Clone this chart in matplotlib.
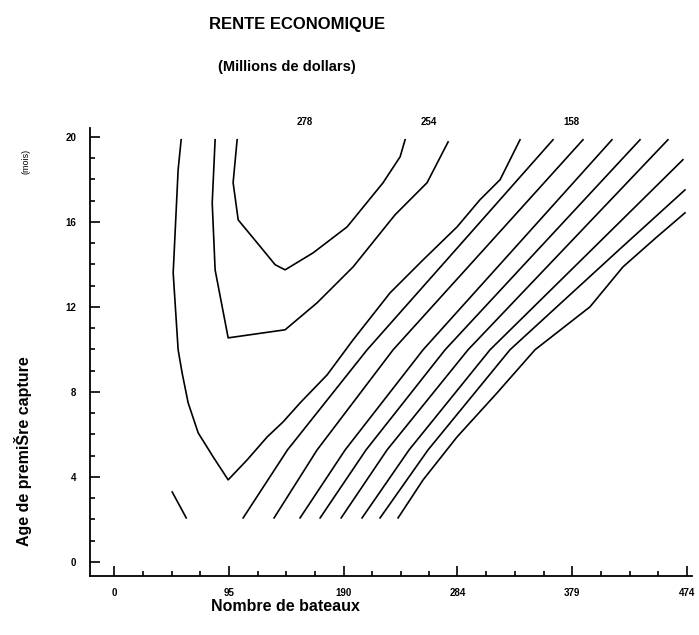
import matplotlib.pyplot as plt

plt.rcParams['font.family'] = ['Liberation Sans', 'DejaVu Sans']

# Contour lines (Nombre de bateaux, Age de premiere capture)
c278_x = [101.7, 98.4, 102.6, 118.3, 133.2, 141.4, 164.6, 192.7, 222.5, 236.6, 240.7]
c278_y = [19.86, 17.84, 16.09, 15.01, 13.98, 13.74, 14.54, 15.76, 17.84, 19.06, 19.86]

c254_x = [83.5, 81.1, 83.5, 94.3, 141.4, 167.9, 197.7, 232.4, 258.9, 276.3]
c254_y = [19.86, 16.89, 13.74, 10.54, 10.92, 12.19, 13.88, 16.33, 17.84, 19.76]

ca_x = [55.4, 52.9, 49.6, 48.8, 52.9, 56.2, 61.2, 69.5, 81.9, 94.3, 110.0, 126.6, 139.8,
        153.8, 176.2, 197.7, 228.3, 255.6, 283.7, 302.7, 319.3, 335.8]
ca_y = [19.86, 18.45, 14.54, 13.6, 9.98, 8.89, 7.48, 6.07, 4.94, 3.86, 4.8, 5.88, 6.59,
        7.48, 8.8, 10.45, 12.66, 14.21, 15.76, 17.04, 17.98, 19.86]

seg_x = [48.0, 59.6]
seg_y = [3.29, 2.07]

# diagonal contours: bottom, y~5.3, y~10, y~14.7, end
diag_x = [
    [106.7, 143.4, 209.3, 282.5, 363.1],
    [132.3, 167.9, 230.8, 305.6, 387.9],
    [153.8, 191.1, 255.6, 330.0, 411.9],
    [170.4, 208.4, 273.8, 350.5, 435.1],
    [187.8, 225.8, 292.8, 371.5, 458.2],
    [205.1, 244.0, 311.0, 395.0, 470.6],
    [220.0, 259.7, 327.5, 417.7, 472.3],
]
diag_y = [
    [2.07, 5.27, 9.98, 14.68, 19.86],
    [2.07, 5.27, 9.98, 14.68, 19.86],
    [2.07, 5.27, 9.98, 14.68, 19.86],
    [2.07, 5.27, 9.98, 14.68, 19.86],
    [2.07, 5.27, 9.98, 14.68, 19.86],
    [2.07, 5.27, 9.98, 14.68, 18.92],
    [2.07, 5.27, 9.98, 14.68, 17.5],
]
last_x = [234.9, 255.6, 283.7, 316.8, 348.2, 393.7, 421.0, 449.1, 472.3]
last_y = [2.07, 3.86, 5.88, 7.95, 9.98, 12.0, 13.88, 15.29, 16.42]

level_labels = ['278', '254', '158']
level_label_x = [158, 260, 378]
level_label_y = [20.45, 20.45, 20.45]

x_ticks = [0, 95, 190, 284, 379, 474]
y_ticks = [0, 4, 8, 12, 16, 20]

fig = plt.figure(figsize=(6.99, 6.35), dpi=100)
ax = fig.add_axes([0.1288, 0.093, 0.861, 0.705])

lw = 1.2
ax.plot(c278_x, c278_y, color='black', lw=lw)
ax.plot(c254_x, c254_y, color='black', lw=lw)
ax.plot(ca_x, ca_y, color='black', lw=lw)
ax.plot(seg_x, seg_y, color='black', lw=lw)
for xs, ys in zip(diag_x, diag_y):
    ax.plot(xs, ys, color='black', lw=lw)
ax.plot(last_x, last_y, color='black', lw=lw)

for t, x, y in zip(level_labels, level_label_x, level_label_y):
    ax.text(x, y, t, fontsize=7, fontweight='bold', ha='center', va='bottom', clip_on=False)

ax.set_xlim(-20, 478)
ax.set_ylim(-0.66, 20.4)
ax.spines['top'].set_visible(False)
ax.spines['right'].set_visible(False)
ax.spines['left'].set_linewidth(1.3)
ax.spines['bottom'].set_linewidth(1.3)

ax.set_xticks(x_ticks)
ax.set_yticks(y_ticks)
ax.set_xticks([t for i in range(5) for t in [x_ticks[i] + (x_ticks[i + 1] - x_ticks[i]) * k / 4 for k in (1, 2, 3)]], minor=True)
ax.set_yticks([v for v in range(0, 21) if v % 4], minor=True)
ax.tick_params(which='both', direction='in', width=1.2, labelsize=7)
ax.tick_params(which='major', length=7)
ax.tick_params(which='minor', length=3.5)
ax.tick_params(axis='x', pad=9)
ax.tick_params(axis='y', pad=10)
for lab in ax.get_xticklabels() + ax.get_yticklabels():
    lab.set_fontweight('bold')

fig.text(0.425, 0.962, 'RENTE ECONOMIQUE', fontsize=12, fontweight='bold', ha='center', va='center')
fig.text(0.41, 0.894, '(Millions de dollars)', fontsize=10.5, fontweight='bold', ha='center', va='center')
fig.text(0.033, 0.29, 'Age de premiŠre capture', fontsize=11.5, fontweight='bold', rotation=90, ha='center', va='center')
fig.text(0.037, 0.745, '(mois)', fontsize=6.5, rotation=90, ha='center', va='center')
fig.text(0.408, 0.045, 'Nombre de bateaux', fontsize=11.5, fontweight='bold', ha='center', va='center')

fig.savefig('out.png', dpi=100)
